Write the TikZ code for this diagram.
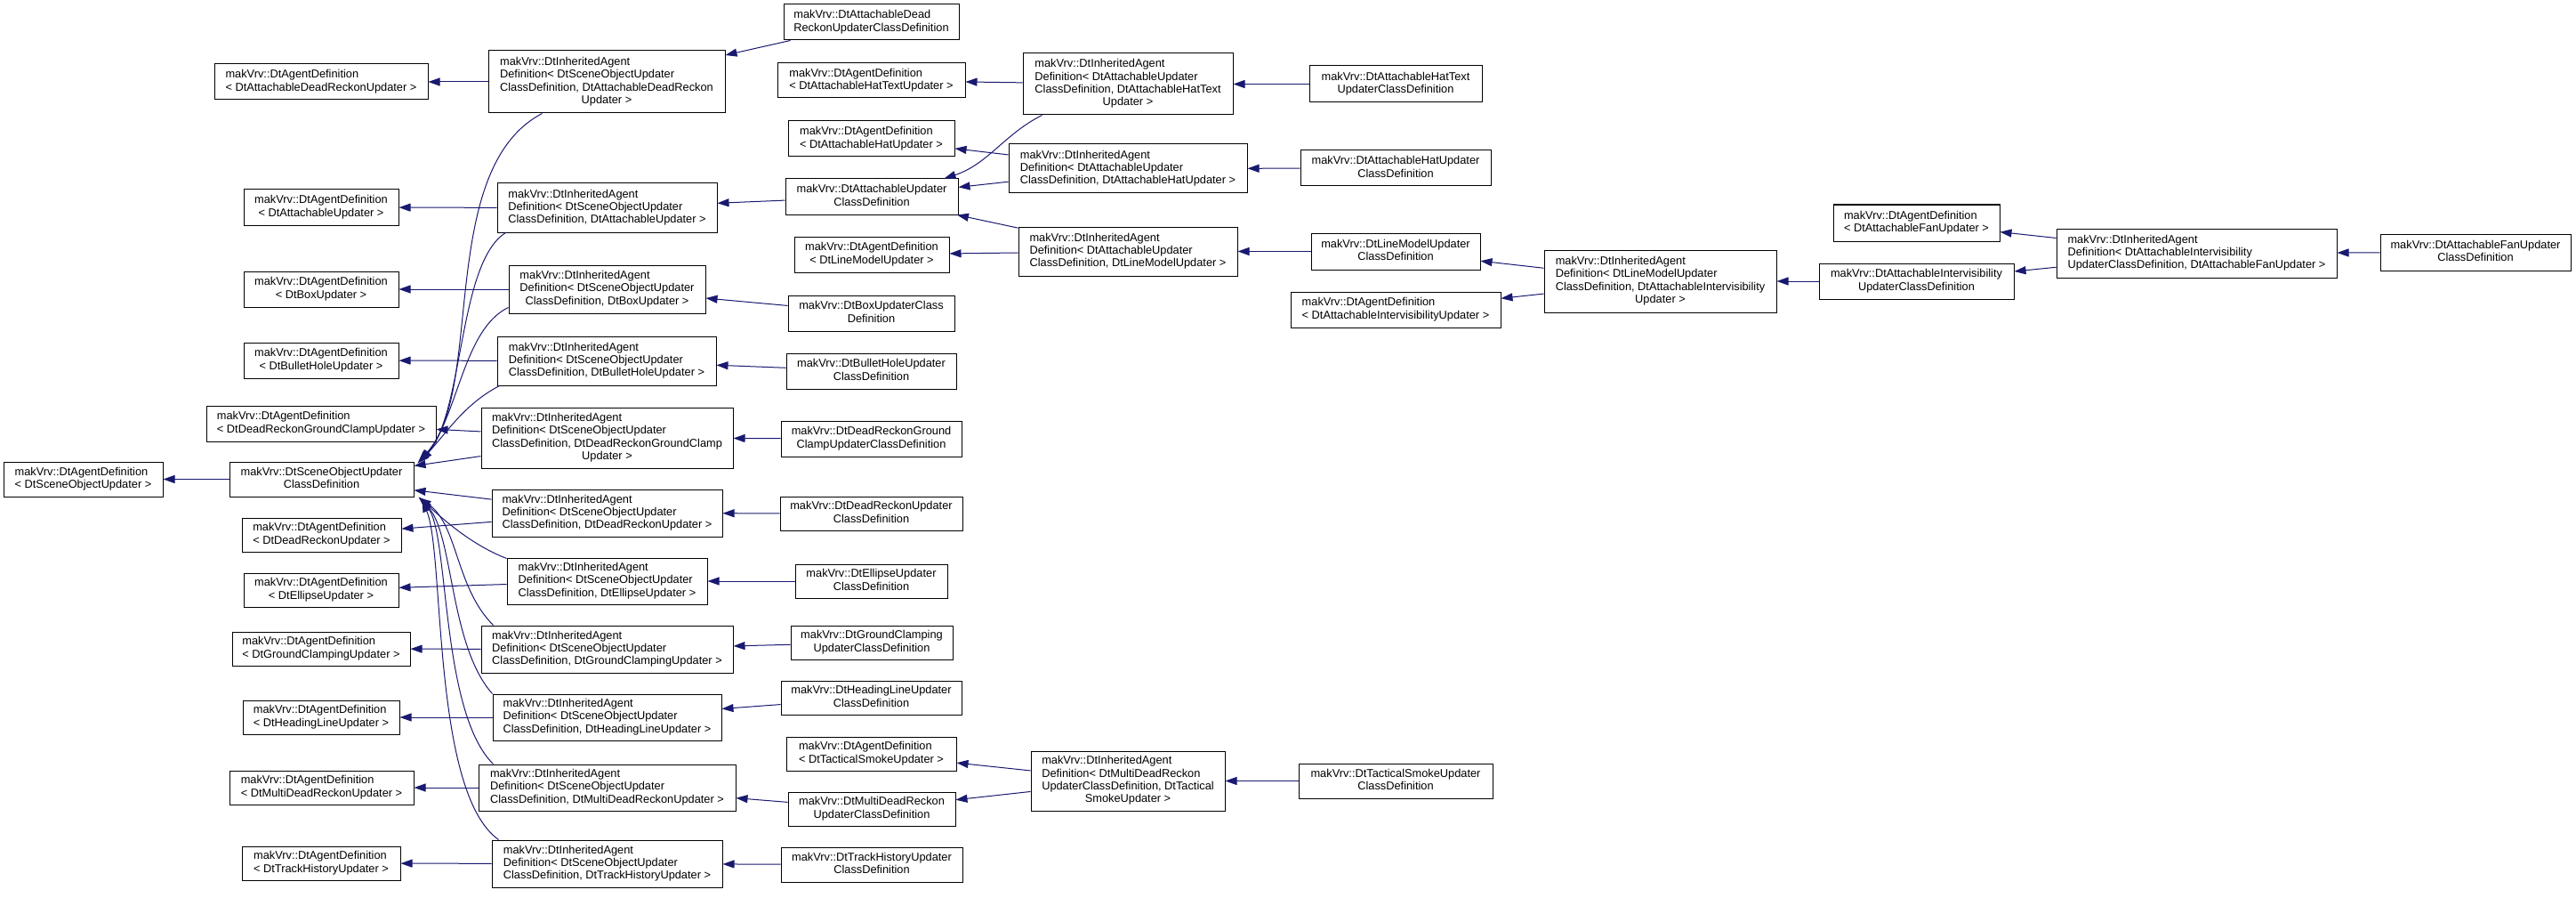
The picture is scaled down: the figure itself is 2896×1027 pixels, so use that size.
\documentclass[tikz,border=0pt]{standalone}
\usepackage{fontspec}
\setmainfont{Liberation Sans}
\usetikzlibrary{arrows.meta,calc}
\definecolor{navyc}{RGB}{25,25,112}
\newcommand\lbl[2]{\begin{tabular}{@{}l@{}}#1\\\multicolumn{1}{@{}c@{}}{#2}\end{tabular}}
\newcommand\mkbox[6]{\node[box,minimum width=#4pt,minimum height=#5pt] (#1) at (#2,#3) {#6};}
\begin{document}
\begin{tikzpicture}[x=1pt,y=-1pt,
  box/.style={draw=black,line width=1pt,fill=white,inner sep=0pt,font=\fontsize{12.8}{14.3}\selectfont},
  edge/.style={draw=navyc,line width=1pt,-{Triangle[length=13pt,width=9pt]}}]
\fill[white] (0,0) rectangle (2896,1027);
\useasboundingbox (0,0) rectangle (2896,1027);
% column 0
\mkbox{asou}{93.5}{538.5}{179}{39}{\lbl{makVrv::DtAgentDefinition}{< DtSceneObjectUpdater >}}
% column 1
\mkbox{adru}{361}{92}{240}{40}{\lbl{makVrv::DtAgentDefinition}{< DtAttachableDeadReckonUpdater >}}
\mkbox{aau}{361}{233}{174}{40}{\lbl{makVrv::DtAgentDefinition}{< DtAttachableUpdater >}}
\mkbox{abox}{361}{325}{174}{40}{\lbl{makVrv::DtAgentDefinition}{< DtBoxUpdater >}}
\mkbox{abh}{361}{405}{174}{40}{\lbl{makVrv::DtAgentDefinition}{< DtBulletHoleUpdater >}}
\mkbox{adrgc}{361}{476}{258}{40}{\lbl{makVrv::DtAgentDefinition}{< DtDeadReckonGroundClampUpdater >}}
\mkbox{soucd}{361.5}{538.5}{207}{39}{\lbl{makVrv::DtSceneObjectUpdater}{ClassDefinition}}
\mkbox{adr}{361.5}{601}{179}{38}{\lbl{makVrv::DtAgentDefinition}{< DtDeadReckonUpdater >}}
\mkbox{aell}{361}{663}{174}{38}{\lbl{makVrv::DtAgentDefinition}{< DtEllipseUpdater >}}
\mkbox{agc}{361}{729}{200}{38}{\lbl{makVrv::DtAgentDefinition}{< DtGroundClampingUpdater >}}
\mkbox{ahl}{361}{806}{176}{38}{\lbl{makVrv::DtAgentDefinition}{< DtHeadingLineUpdater >}}
\mkbox{amdr}{361.5}{885}{207}{38}{\lbl{makVrv::DtAgentDefinition}{< DtMultiDeadReckonUpdater >}}
\mkbox{ath}{361}{970}{178}{38}{\lbl{makVrv::DtAgentDefinition}{< DtTrackHistoryUpdater >}}
% column 2
\mkbox{iadr}{682}{92}{266}{70}{\lbl{makVrv::DtInheritedAgent\\Definition< DtSceneObjectUpdater\\ClassDefinition, DtAttachableDeadReckon}{Updater >}}
\mkbox{iau}{682.5}{233.5}{247}{55}{\lbl{makVrv::DtInheritedAgent\\Definition< DtSceneObjectUpdater}{ClassDefinition, DtAttachableUpdater >}}
\mkbox{ibox}{682.5}{325}{221}{54}{\lbl{makVrv::DtInheritedAgent\\Definition< DtSceneObjectUpdater}{ClassDefinition, DtBoxUpdater >}}
\mkbox{ibh}{682}{405.5}{246}{55}{\lbl{makVrv::DtInheritedAgent\\Definition< DtSceneObjectUpdater}{ClassDefinition, DtBulletHoleUpdater >}}
\mkbox{idrgc}{682.5}{492}{283}{68}{\lbl{makVrv::DtInheritedAgent\\Definition< DtSceneObjectUpdater\\ClassDefinition, DtDeadReckonGroundClamp}{Updater >}}
\mkbox{idr}{682.5}{576.5}{259}{53}{\lbl{makVrv::DtInheritedAgent\\Definition< DtSceneObjectUpdater}{ClassDefinition, DtDeadReckonUpdater >}}
\mkbox{iell}{682.5}{653}{225}{52}{\lbl{makVrv::DtInheritedAgent\\Definition< DtSceneObjectUpdater}{ClassDefinition, DtEllipseUpdater >}}
\mkbox{igc}{682.5}{729.5}{283}{53}{\lbl{makVrv::DtInheritedAgent\\Definition< DtSceneObjectUpdater}{ClassDefinition, DtGroundClampingUpdater >}}
\mkbox{ihl}{682.5}{806}{257}{52}{\lbl{makVrv::DtInheritedAgent\\Definition< DtSceneObjectUpdater}{ClassDefinition, DtHeadingLineUpdater >}}
\mkbox{imdr}{682.5}{885}{289}{52}{\lbl{makVrv::DtInheritedAgent\\Definition< DtSceneObjectUpdater}{ClassDefinition, DtMultiDeadReckonUpdater >}}
\mkbox{ith}{682.5}{970.5}{259}{53}{\lbl{makVrv::DtInheritedAgent\\Definition< DtSceneObjectUpdater}{ClassDefinition, DtTrackHistoryUpdater >}}
% column 3
\mkbox{adrcd}{979.5}{25}{197}{40}{\lbl{makVrv::DtAttachableDead}{ReckonUpdaterClassDefinition}}
\mkbox{aaht}{979.5}{90.5}{211}{39}{\lbl{makVrv::DtAgentDefinition}{< DtAttachableHatTextUpdater >}}
\mkbox{aah}{979.5}{156}{187}{40}{\lbl{makVrv::DtAgentDefinition}{< DtAttachableHatUpdater >}}
\mkbox{aucd}{980}{221}{194}{40}{\lbl{makVrv::DtAttachableUpdater}{ClassDefinition}}
\mkbox{alm}{980}{286}{174}{40}{\lbl{makVrv::DtAgentDefinition}{< DtLineModelUpdater >}}
\mkbox{boxcd}{979.5}{352}{187}{40}{\lbl{makVrv::DtBoxUpdaterClass}{Definition}}
\mkbox{bhcd}{979.5}{417}{191}{40}{\lbl{makVrv::DtBulletHoleUpdater}{ClassDefinition}}
\mkbox{drgccd}{979.5}{493}{203}{40}{\lbl{makVrv::DtDeadReckonGround}{ClampUpdaterClassDefinition}}
\mkbox{drcd}{979.5}{577}{205}{38}{\lbl{makVrv::DtDeadReckonUpdater}{ClassDefinition}}
\mkbox{ellcd}{979.5}{653}{171}{38}{\lbl{makVrv::DtEllipseUpdater}{ClassDefinition}}
\mkbox{gccd}{980}{722}{182}{38}{\lbl{makVrv::DtGroundClamping}{UpdaterClassDefinition}}
\mkbox{hlcd}{979.5}{784}{203}{38}{\lbl{makVrv::DtHeadingLineUpdater}{ClassDefinition}}
\mkbox{ats}{979.5}{847}{191}{38}{\lbl{makVrv::DtAgentDefinition}{< DtTacticalSmokeUpdater >}}
\mkbox{mdrcd}{980}{909}{188}{38}{\lbl{makVrv::DtMultiDeadReckon}{UpdaterClassDefinition}}
\mkbox{thcd}{980}{971.5}{204}{39}{\lbl{makVrv::DtTrackHistoryUpdater}{ClassDefinition}}
% column 4
\mkbox{iaht}{1268}{94.5}{236}{69}{\lbl{makVrv::DtInheritedAgent\\Definition< DtAttachableUpdater\\ClassDefinition, DtAttachableHatText}{Updater >}}
\mkbox{iah}{1268}{189.5}{268}{55}{\lbl{makVrv::DtInheritedAgent\\Definition< DtAttachableUpdater}{ClassDefinition, DtAttachableHatUpdater >}}
\mkbox{ilm}{1268}{282.5}{246}{55}{\lbl{makVrv::DtInheritedAgent\\Definition< DtAttachableUpdater}{ClassDefinition, DtLineModelUpdater >}}
\mkbox{its}{1268}{877.5}{218}{67}{\lbl{makVrv::DtInheritedAgent\\Definition< DtMultiDeadReckon\\UpdaterClassDefinition, DtTactical}{SmokeUpdater >}}
% column 5
\mkbox{ahtcd}{1569}{94.5}{194}{41}{\lbl{makVrv::DtAttachableHatText}{UpdaterClassDefinition}}
\mkbox{ahcd}{1569}{189}{214}{40}{\lbl{makVrv::DtAttachableHatUpdater}{ClassDefinition}}
\mkbox{lmcd}{1569}{282.5}{190}{41}{\lbl{makVrv::DtLineModelUpdater}{ClassDefinition}}
\mkbox{aaiv}{1569}{348}{236}{40}{\lbl{makVrv::DtAgentDefinition}{< DtAttachableIntervisibilityUpdater >}}
\mkbox{tscd}{1569}{877.5}{218}{39}{\lbl{makVrv::DtTacticalSmokeUpdater}{ClassDefinition}}
% column 6-9
\mkbox{ilmaiv}{1866.5}{316}{261}{70}{\lbl{makVrv::DtInheritedAgent\\Definition< DtLineModelUpdater\\ClassDefinition, DtAttachableIntervisibility}{Updater >}}
\mkbox{aivcd}{2154.5}{316}{219}{40}{\lbl{makVrv::DtAttachableIntervisibility}{UpdaterClassDefinition}}
\mkbox{aaf}{2154.5}{250.5}{187}{41}{\lbl{makVrv::DtAgentDefinition}{< DtAttachableFanUpdater >}}
\mkbox{iaivaf}{2469.5}{284.5}{315}{55}{\lbl{makVrv::DtInheritedAgent\\Definition< DtAttachableIntervisibility}{UpdaterClassDefinition, DtAttachableFanUpdater >}}
\mkbox{afcd}{2783}{283.5}{214}{41}{\lbl{makVrv::DtAttachableFanUpdater}{ClassDefinition}}
% edges: column 1 -> 0
\draw[edge] (soucd) -- (asou);
% column 2 -> 1
\draw[edge] (iadr) -- (adru);
\draw[edge] (iau) -- (aau);
\draw[edge] (ibox) -- (abox);
\draw[edge] (ibh) -- (abh);
\draw[edge] (idrgc) -- (adrgc);
\draw[edge] (idr) -- (adr);
\draw[edge] (iell) -- (aell);
\draw[edge] (igc) -- (agc);
\draw[edge] (ihl) -- (ahl);
\draw[edge] (imdr) -- (amdr);
\draw[edge] (ith) -- (ath);
\draw[edge] (idrgc) -- (soucd);
\draw[edge] (idr) -- (soucd);
\draw[edge] ($(iadr.south west)+(61,0)$) .. controls (490,190) and (545,440) .. ($(soucd.north east)+(6,-1)$);
\draw[edge] ($(iau.south west)+(10,0)$) .. controls (515,295) and (522,460) .. ($(soucd.north east)+(8,0)$);
\draw[edge] ($(ibox.south west)+(0,-7)$) .. controls (520,370) and (515,470) .. ($(soucd.north east)+(5,1)$);
\draw[edge] ($(ibh.south west)+(3,0)$) .. controls (520,455) and (500,490) .. ($(soucd.north east)+(4,2)$);
\draw[edge] ($(iell.north west)+(0,1)$) .. controls (530,612) and (500,585) .. ($(soucd.south east)+(5,0)$);
\draw[edge] ($(igc.north west)+(14,0)$) .. controls (512,660) and (515,590) .. ($(soucd.south east)+(6,1)$);
\draw[edge] (ihl.north west) .. controls (505,725) and (510,600) .. ($(soucd.south east)+(7,2)$);
\draw[edge] ($(imdr.north west)+(17,0)$) .. controls (495,800) and (505,600) .. ($(soucd.south east)+(8,3)$);
\draw[edge] ($(ith.north west)+(8,0)$) .. controls (485,890) and (500,620) .. ($(soucd.south east)+(9,4)$);
% column 3 -> 2
\draw[edge] (adrcd) -- (iadr);
\draw[edge] (aucd) -- (iau);
\draw[edge] (boxcd) -- (ibox);
\draw[edge] (bhcd) -- (ibh);
\draw[edge] (drgccd) -- (idrgc);
\draw[edge] (drcd) -- (idr);
\draw[edge] (ellcd) -- (iell);
\draw[edge] (gccd) -- (igc);
\draw[edge] (hlcd) -- (ihl);
\draw[edge] (mdrcd) -- (imdr);
\draw[edge] (thcd) -- (ith);
% column 4 -> 3
\draw[edge] (iaht) -- (aaht);
\draw[edge] ($(iaht.south west)+(22,0)$) .. controls (1130,150) and (1110,185) .. ($(aucd.north east)+(-16,0)$);
\draw[edge] (iah) -- (aah);
\draw[edge] (iah) -- (aucd);
\draw[edge] (ilm) -- (alm);
\draw[edge] (ilm) -- (aucd);
\draw[edge] (its) -- (ats);
\draw[edge] (its) -- (mdrcd);
% column 5 -> 4
\draw[edge] (ahtcd) -- (iaht);
\draw[edge] (ahcd) -- (iah);
\draw[edge] (lmcd) -- (ilm);
\draw[edge] (tscd) -- (its);
% right part
\draw[edge] (ilmaiv) -- (lmcd);
\draw[edge] (ilmaiv) -- (aaiv);
\draw[edge] (aivcd) -- (ilmaiv);
\draw[edge] (iaivaf) -- (aaf);
\draw[edge] (iaivaf) -- (aivcd);
\draw[edge] (afcd) -- (iaivaf);
\end{tikzpicture}
\end{document}
